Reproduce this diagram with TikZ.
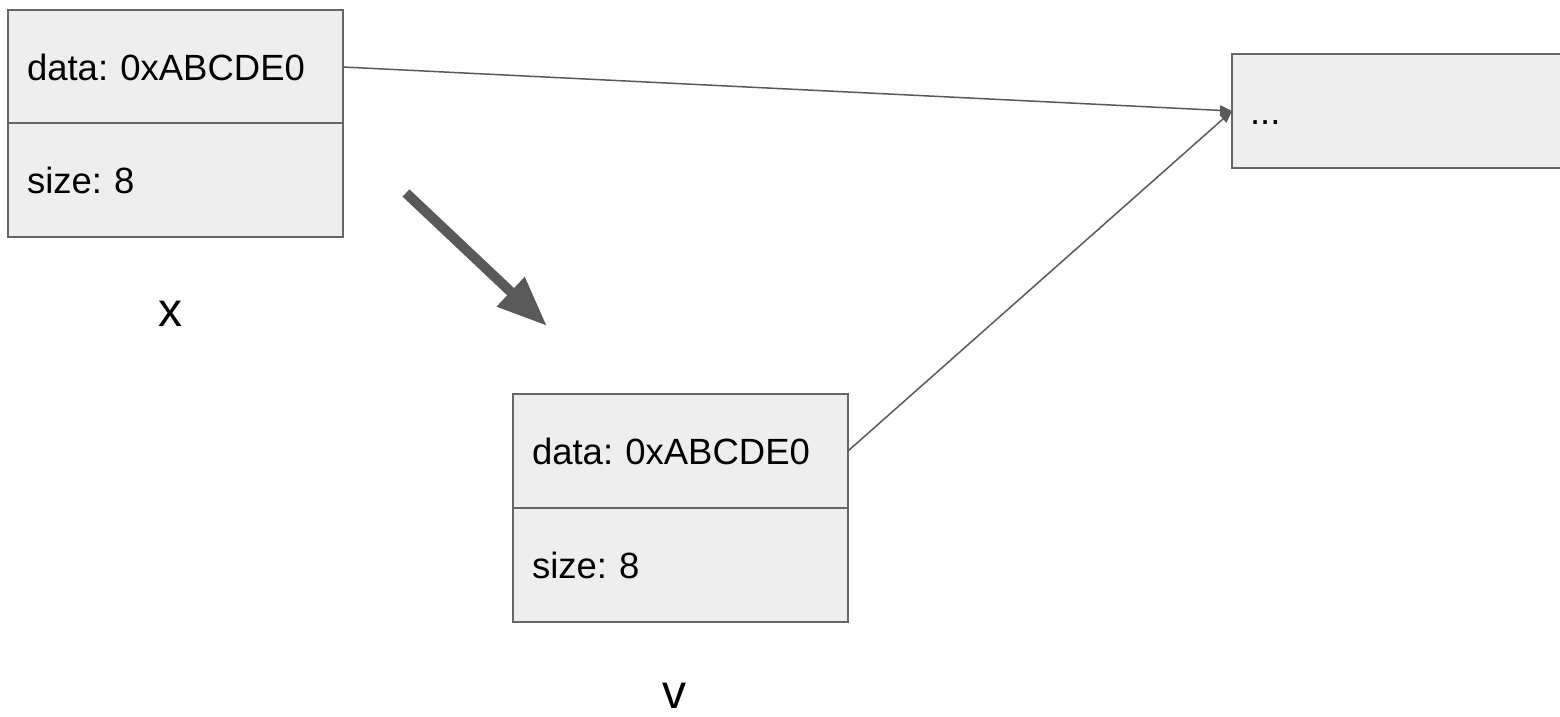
\documentclass[tikz,border=0pt]{standalone}
\usepackage{fontspec}
\setmainfont{Liberation Sans}
\usetikzlibrary{arrows.meta}
\definecolor{cellfill}{HTML}{EEEEEE}
\definecolor{cellline}{HTML}{666666}
\definecolor{arrowgray}{HTML}{595959}
\frenchspacing
\begin{document}
\begin{tikzpicture}[x=0.5pt,y=-0.5pt,
  cell/.style={draw=cellline, fill=cellfill, line width=1pt, rectangle, anchor=north west,
    minimum width=167.5pt, minimum height=57pt, inner xsep=9.5pt, inner ysep=0pt,
    text width=148.5pt, align=left, outer sep=0pt, text height=13.2pt, text depth=0pt,
    font=\fontsize{18.25pt}{22pt}\selectfont},
  widecell/.style={cell, minimum width=170pt, inner xsep=9pt, text width=152pt},
  varlabel/.style={font=\fontsize{24pt}{29pt}\selectfont, inner sep=0pt},
  ptr/.style={draw=arrowgray, line width=0.75pt, -{Triangle[length=6pt,width=5pt]}},
  bigarrow/.style={draw=arrowgray, line width=5pt, -{Triangle[length=25pt,width=19pt]}}]
\useasboundingbox (0,0) rectangle (1560,717);

% object x
\node[cell] (xd) at (8,10) {data: 0xABCDE0};
\node[cell] (xs) at (8,123) {size: 8};
\node[varlabel] (xl) at (170,314) {x};

% object v
\node[cell] (vd) at (513,394) {data: 0xABCDE0};
\node[cell] (vs) at (513,508) {size: 8};
\node[varlabel] (vl) at (674,696) {v};

% heap block
\node[widecell] (heap) at (1232,54) {...};

% pointers
\draw[ptr] (xd.east) -- (heap.west);
\draw[ptr] (vd.east) -- (heap.west);

% copy arrow
\coordinate (cpa) at (406,193);
\coordinate (cpb) at (547,326);
\draw[bigarrow] (cpa) -- (cpb);
\end{tikzpicture}
\end{document}
